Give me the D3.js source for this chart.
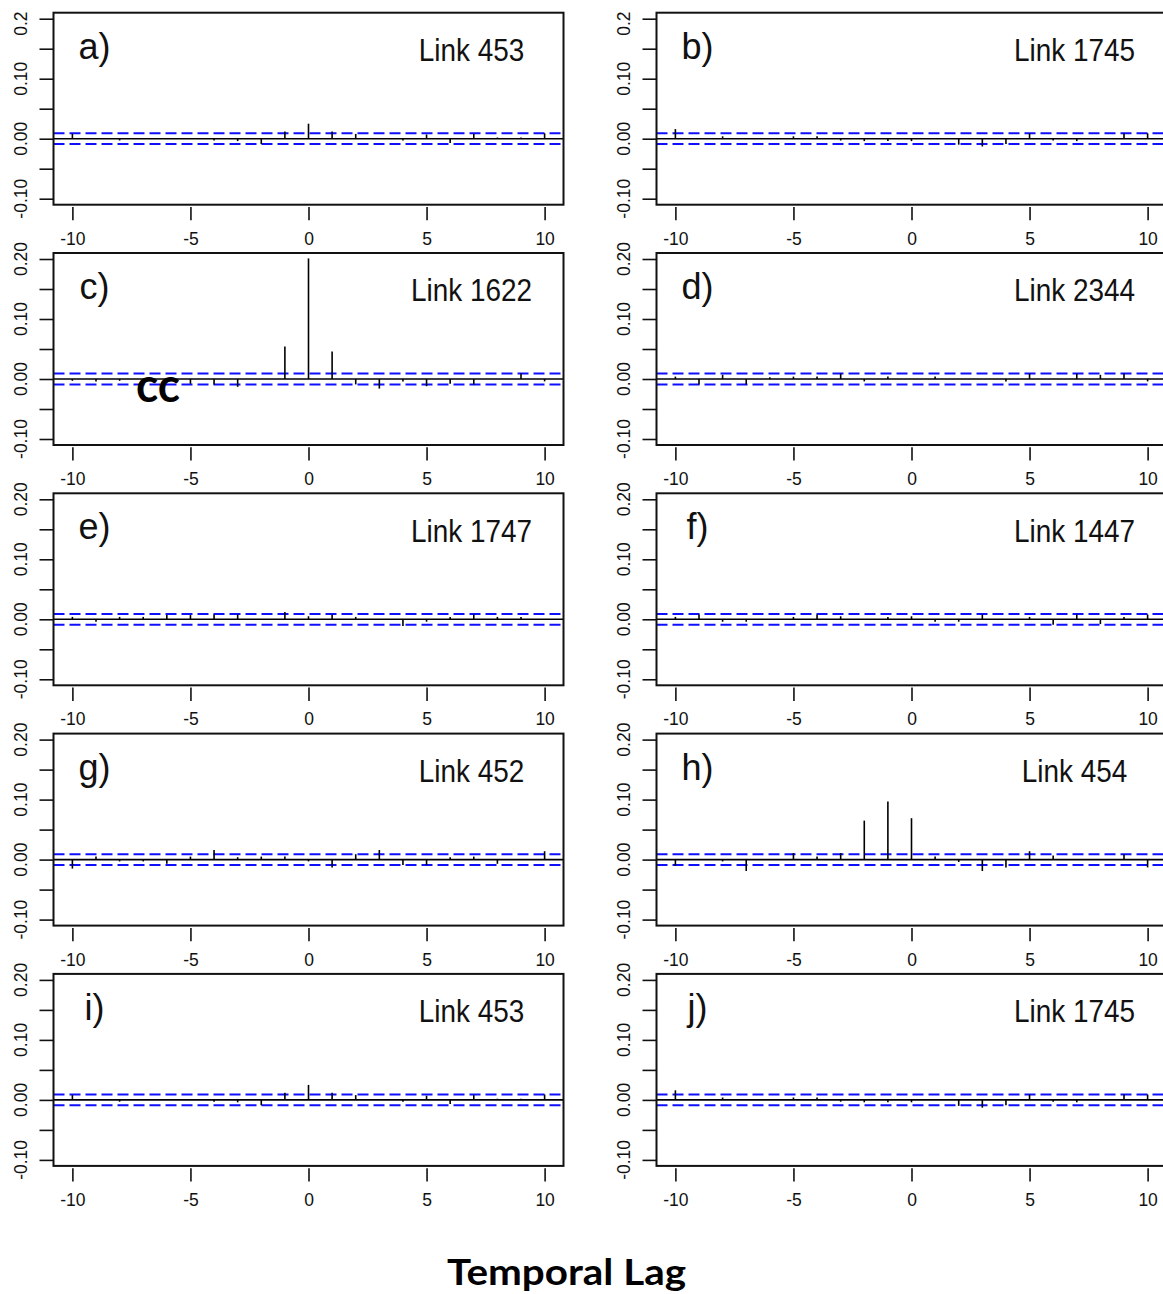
<!DOCTYPE html>
<html>
<head>
<meta charset="utf-8">
<script src="https://cdn.jsdelivr.net/npm/d3@7"></script>
<style>
  body { margin: 0; background: #fff; }
  svg { display: block; }
</style>
</head>
<body>
<div id="chart"></div>
<script>
// cross-correlation by temporal lag, one array per link
const lags = [-10, -9, -8, -7, -6, -5, -4, -3, -2, -1, 0, 1, 2, 3, 4, 5, 6, 7, 8, 9, 10];

const link453  = [0.008, 0.000, -0.003, 0.000, 0.000, 0.000, -0.003, -0.004, -0.009, 0.012, 0.025, 0.012, 0.008, 0.000, -0.003, 0.007, -0.007, 0.008, 0.002, 0.002, 0.009];
const link1745 = [0.016, 0.000, 0.004, 0.000, 0.000, 0.004, 0.004, -0.003, -0.004, -0.004, -0.004, 0.000, -0.010, -0.013, -0.009, 0.009, -0.003, -0.004, 0.000, 0.009, 0.009];
const link1622 = [-0.003, -0.004, -0.003, 0.000, 0.000, -0.008, -0.009, -0.013, 0.000, 0.054, 0.201, 0.046, -0.009, -0.016, -0.004, -0.012, -0.008, -0.009, 0.000, 0.009, -0.004];
const link2344 = [0.004, -0.009, 0.007, -0.009, 0.003, 0.004, 0.004, 0.009, -0.004, 0.004, 0.000, 0.004, 0.000, 0.000, -0.004, 0.009, 0.000, 0.009, 0.007, 0.009, -0.004];
const link1747 = [0.004, -0.004, 0.004, 0.004, 0.007, 0.007, 0.008, 0.008, 0.000, 0.012, 0.005, 0.008, 0.004, 0.000, -0.011, -0.004, 0.004, 0.008, 0.004, 0.004, 0.000];
const link1447 = [0.004, 0.008, -0.004, -0.004, 0.000, 0.004, 0.008, 0.005, 0.000, 0.004, 0.005, -0.004, -0.004, 0.008, 0.000, 0.004, -0.009, 0.008, -0.008, 0.004, 0.008];
const link452  = [-0.015, 0.005, -0.003, -0.003, -0.007, 0.005, 0.016, 0.004, 0.005, 0.005, -0.003, -0.013, 0.009, 0.016, -0.009, -0.009, 0.004, 0.005, -0.007, 0.000, 0.014];
const link454  = [-0.010, 0.000, -0.003, -0.019, 0.000, 0.011, 0.005, 0.011, 0.065, 0.097, 0.069, 0.005, -0.004, -0.019, -0.013, 0.014, 0.007, 0.000, 0.000, 0.009, -0.013];

const panelLetters = ['a)', 'b)', 'c)', 'd)', 'e)', 'f)', 'g)', 'h)', 'i)', 'j)'];
const panelNames = ['Link 453', 'Link 1745', 'Link 1622', 'Link 2344', 'Link 1747', 'Link 1447', 'Link 452', 'Link 454', 'Link 453', 'Link 1745'];
const panelSeries = [link453, link1745, link1622, link2344, link1747, link1447, link452, link454, link453, link1745];

const ciBound = 0.009;
const xTicks = [-10, -5, 0, 5, 10];
const yTicks = [-0.10, -0.05, 0.00, 0.05, 0.10, 0.15, 0.20];
const yLabelTicks = [-0.10, 0.00, 0.10, 0.20];

const width = 1163, height = 1294;
const boxW = 510, boxH = 192;
const colX = [53.5, 656.5];
const rowY0 = 12.7, rowPitch = 240.3;

// R prints a plain hyphen, not the unicode minus d3.format gives
const fmtX = d => d3.format('d')(d).replace('\u2212', '-');
const fmtY = d => d3.format('.2f')(d).replace('\u2212', '-');

const svg = d3.select('#chart')
    .append('svg')
    .attr('width', width)
    .attr('height', height)
    .style('font-family', '"Liberation Sans", Arial, sans-serif');

const x = d3.scaleLinear().domain([-10.8, 10.8]).range([0, boxW]);
const y = d3.scaleLinear().domain([-0.11, 0.21]).range([boxH, 0]);

panelSeries.forEach((values, i) => {
    const row = Math.floor(i / 2), col = i % 2;
    const g = svg.append('g')
        .attr('transform', `translate(${colX[col]},${rowY0 + row * rowPitch})`);

    // confidence bounds
    [ciBound, -ciBound].forEach(b => {
        g.append('line')
            .attr('x1', 0).attr('x2', boxW)
            .attr('y1', y(b)).attr('y2', y(b))
            .attr('stroke', '#0f0fff')
            .attr('stroke-width', 2)
            .attr('stroke-dasharray', '11,5');
    });

    g.append('line')
        .attr('x1', 0).attr('x2', boxW)
        .attr('y1', y(0)).attr('y2', y(0))
        .attr('stroke', '#000')
        .attr('stroke-width', 1.6);

    g.append('g')
        .selectAll('line')
        .data(lags.map((lag, k) => ({ lag, v: values[k] })))
        .enter()
        .append('line')
        .attr('x1', d => x(d.lag)).attr('x2', d => x(d.lag))
        .attr('y1', y(0)).attr('y2', d => y(d.v))
        .attr('stroke', '#000')
        .attr('stroke-width', 1.6);

    g.append('rect')
        .attr('width', boxW).attr('height', boxH)
        .attr('fill', 'none')
        .attr('stroke', '#111')
        .attr('stroke-width', 2);

    // x axis (R style, detached ticks)
    const xAxis = g.append('g')
        .attr('transform', `translate(0,${boxH + 2.3})`)
        .call(d3.axisBottom(x).tickValues(xTicks).tickSize(13.3).tickSizeOuter(0).tickPadding(12).tickFormat(fmtX));
    xAxis.select('.domain').remove();
    xAxis.selectAll('line').attr('stroke', '#111').attr('stroke-width', 1.6);
    xAxis.selectAll('text')
        .style('font-size', '17.5px')
        .attr('fill', '#111');

    // y axis ticks
    const yAxis = g.append('g')
        .call(d3.axisLeft(y).tickValues(yTicks).tickSize(14).tickFormat(''));
    yAxis.select('.domain').remove();
    yAxis.selectAll('line').attr('stroke', '#111').attr('stroke-width', 1.6);

    // rotated y labels; top row loses the last digit of 0.20 at the page edge
    g.append('g')
        .selectAll('text')
        .data(yLabelTicks)
        .enter()
        .append('text')
        .attr('transform', d => {
            const shift = (row === 0 && d === 0.20) ? 4.9 : 0;
            return `translate(-33,${y(d) + shift}) rotate(-90)`;
        })
        .attr('text-anchor', 'middle')
        .attr('dy', '0.36em')
        .style('font-size', '17.5px')
        .attr('fill', '#111')
        .text(d => (row === 0 && d === 0.20) ? '0.2' : fmtY(d));

    g.append('text')
        .attr('x', 41).attr('y', 46)
        .attr('text-anchor', 'middle')
        .style('font-size', '36px')
        .attr('fill', '#111')
        .text(panelLetters[i]);

    g.append('text')
        .attr('transform', `translate(418,48.3) scale(0.9,1)`)
        .attr('text-anchor', 'middle')
        .style('font-size', '31px')
        .attr('fill', '#111')
        .text(panelNames[i]);
});

svg.append('text')
    .attr('x', 136).attr('y', 402)
    .attr('textLength', 44)
    .attr('lengthAdjust', 'spacingAndGlyphs')
    .style('font-family', 'Lato, "Open Sans", sans-serif')
    .style('font-weight', 700)
    .style('font-size', '48px')
    .attr('fill', '#000')
    .text('cc');

svg.append('text')
    .attr('x', 447).attr('y', 1285)
    .attr('textLength', 239)
    .attr('lengthAdjust', 'spacingAndGlyphs')
    .style('font-family', 'Lato, "Open Sans", sans-serif')
    .style('font-weight', 700)
    .style('font-size', '37px')
    .attr('fill', '#000')
    .text('Temporal Lag');
</script>
</body>
</html>
